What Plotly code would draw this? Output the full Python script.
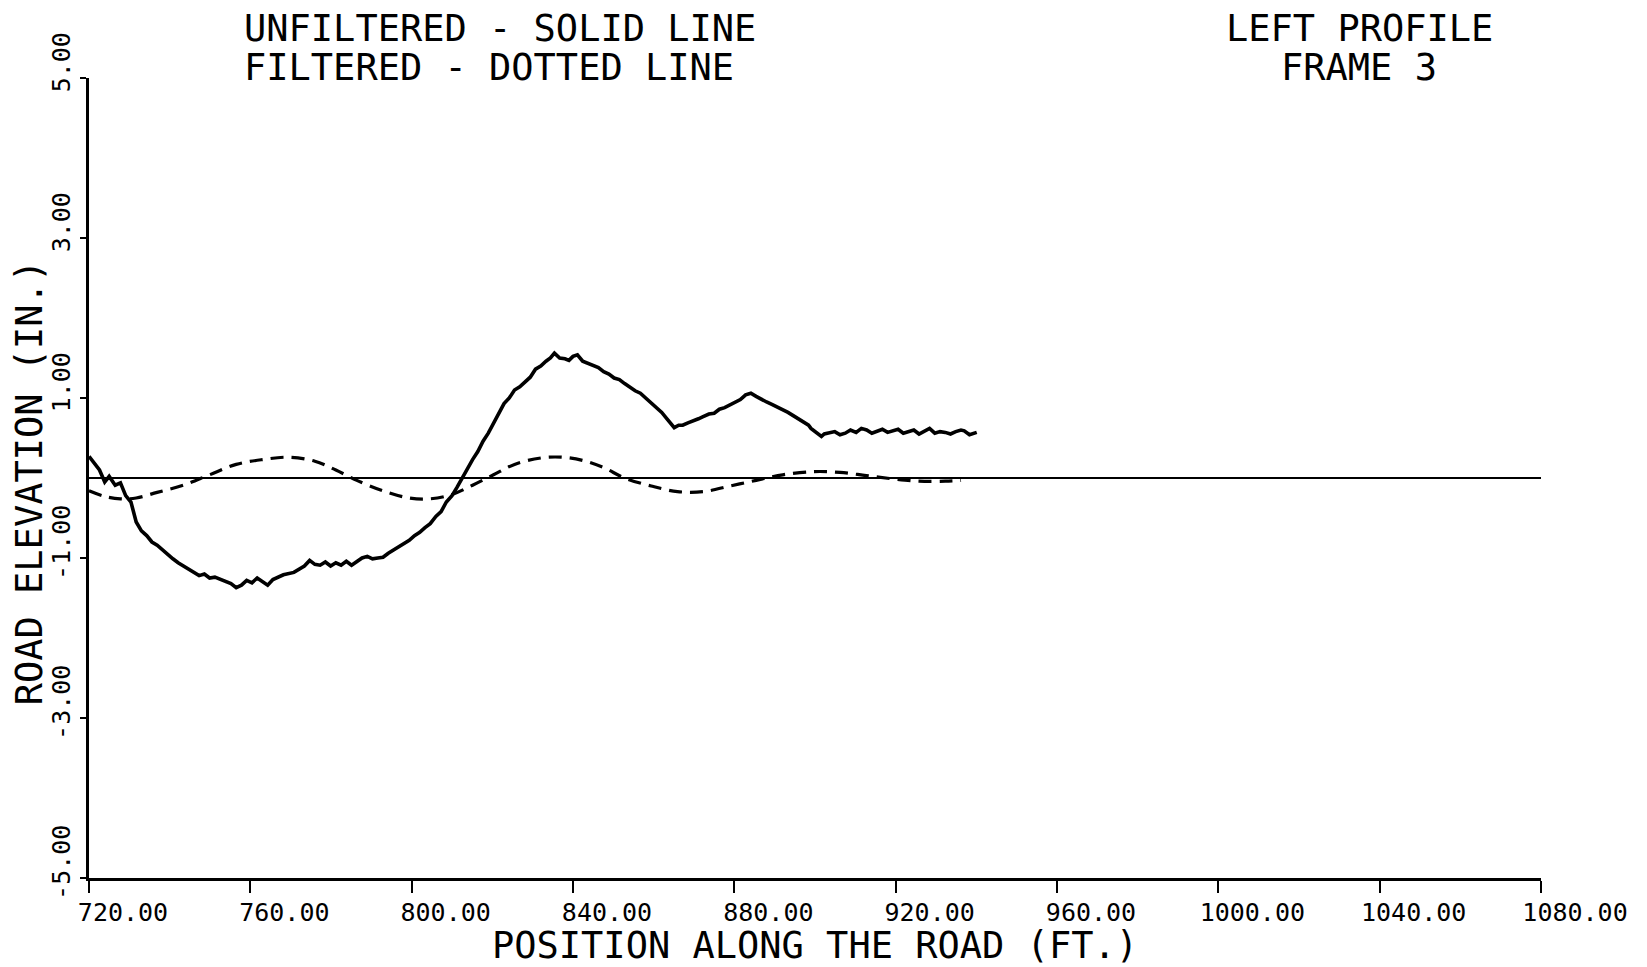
import plotly.graph_objects as go

# Unfiltered profile (solid line)
raw_x = [720.0, 722.6, 723.9, 725.0, 726.5, 727.8, 729.1, 730.4, 731.7, 733.0, 734.3, 735.6, 736.9, 738.2,
         739.5, 740.8, 742.1, 743.4, 744.7, 746.0, 747.3, 748.6, 749.9, 751.2, 752.5, 753.9, 755.2, 756.5,
         757.8, 759.1, 760.4, 761.7, 763.0, 764.3, 765.6, 766.9, 768.2, 770.8, 772.1, 773.4, 774.7, 776.0,
         777.3, 778.6, 779.9, 781.2, 782.5, 783.8, 785.1, 786.4, 787.7, 789.0, 790.3, 791.6, 792.9, 794.2,
         795.5, 796.8, 798.1, 799.4, 800.7, 802.0, 803.3, 804.6, 806.0, 807.3, 808.6, 810.0, 811.2, 812.5,
         813.8, 815.1, 816.4, 817.7, 819.0, 820.3, 821.6, 822.9, 824.2, 825.5, 826.8, 828.1, 829.4, 830.7,
         832.0, 833.3, 834.4, 835.4, 836.7, 838.0, 839.0, 840.0, 841.1, 842.4, 843.7, 845.0, 846.3, 847.6,
         848.9, 850.2, 851.5, 852.8, 854.1, 855.4, 856.7, 858.0, 859.4, 860.7, 862.0, 863.3, 864.2, 865.1,
         866.2, 867.2, 868.5, 869.8, 871.1, 872.4, 873.7, 875.0, 876.3, 877.6, 878.9, 880.2, 881.5, 882.8,
         884.1, 885.4, 886.7, 888.0, 889.3, 890.6, 892.0, 893.3, 894.6, 895.8, 897.1, 898.4, 899.0, 900.3,
         901.6, 902.3, 903.6, 904.9, 906.2, 907.5, 908.8, 910.2, 911.5, 912.8, 914.1, 915.4, 916.7, 918.0,
         919.3, 920.6, 921.9, 923.2, 924.5, 925.8, 927.1, 928.4, 929.7, 931.0, 932.3, 933.6, 934.9, 936.2,
         937.0, 938.3, 940.1]
raw_y = [0.27, 0.10, -0.05, 0.02, -0.09, -0.06, -0.22, -0.30, -0.55, -0.66, -0.72, -0.80, -0.84, -0.90,
         -0.96, -1.01, -1.06, -1.10, -1.13, -1.18, -1.22, -1.20, -1.25, -1.24, -1.27, -1.30, -1.32, -1.37,
         -1.34, -1.28, -1.31, -1.25, -1.30, -1.34, -1.27, -1.24, -1.21, -1.18, -1.14, -1.10, -1.03, -1.08,
         -1.09, -1.05, -1.10, -1.06, -1.09, -1.04, -1.09, -1.05, -1.00, -0.98, -1.01, -1.00, -0.99, -0.94,
         -0.90, -0.86, -0.81, -0.78, -0.72, -0.68, -0.62, -0.57, -0.48, -0.42, -0.30, -0.22, -0.12, 0.00,
         0.10, 0.23, 0.33, 0.46, 0.56, 0.69, 0.80, 0.93, 1.00, 1.10, 1.14, 1.20, 1.26, 1.36, 1.40, 1.46,
         1.50, 1.56, 1.50, 1.49, 1.47, 1.52, 1.54, 1.46, 1.43, 1.41, 1.38, 1.33, 1.30, 1.25, 1.23, 1.18,
         1.13, 1.09, 1.06, 1.00, 0.94, 0.88, 0.82, 0.74, 0.69, 0.63, 0.66, 0.66, 0.69, 0.71, 0.74, 0.77,
         0.80, 0.81, 0.86, 0.88, 0.91, 0.95, 0.98, 1.04, 1.06, 1.02, 0.98, 0.95, 0.92, 0.89, 0.86, 0.82,
         0.78, 0.74, 0.70, 0.66, 0.62, 0.57, 0.52, 0.55, 0.56, 0.58, 0.54, 0.56, 0.60, 0.57, 0.62, 0.60,
         0.56, 0.58, 0.61, 0.57, 0.59, 0.61, 0.56, 0.58, 0.60, 0.55, 0.59, 0.62, 0.56, 0.58, 0.57, 0.55,
         0.58, 0.60, 0.59, 0.54, 0.57, 0.60]

# Filtered profile (dotted line)
filt_x = [720.0, 723.9, 727.8, 731.7, 736.9, 743.4, 749.9, 756.5, 763.0, 769.5, 776.0, 781.2, 786.4,
          792.9, 799.4, 804.6, 809.8, 815.1, 820.3, 825.5, 832.0, 837.2, 842.4, 847.6, 852.8, 859.4,
          865.9, 872.4, 878.9, 885.4, 892.0, 899.7, 906.2, 912.7, 919.2, 925.8, 932.3, 936.2]
filt_y = [-0.16, -0.23, -0.26, -0.25, -0.18, -0.09, 0.04, 0.17, 0.23, 0.26, 0.21, 0.10, -0.03,
          -0.16, -0.25, -0.26, -0.21, -0.09, 0.04, 0.17, 0.25, 0.26, 0.22, 0.13, 0.00, -0.10,
          -0.17, -0.17, -0.10, -0.03, 0.04, 0.08, 0.07, 0.03, -0.01, -0.04, -0.04, -0.03]

x_ticks = [720, 760, 800, 840, 880, 920, 960, 1000, 1040, 1080]
x_tick_text = ["720.00", "760.00", "800.00", "840.00", "880.00", "920.00", "960.00", "1000.00", "1040.00", "1080.00"]
y_ticks = [-5, -3, -1, 1, 3, 5]
y_tick_text = ["-5.00", "-3.00", "-1.00", "1.00", "3.00", "5.00"]

FONT = "DejaVu Sans Mono"

fig = go.Figure()
fig.add_trace(go.Scatter(x=filt_x, y=filt_y, mode="lines",
                         line=dict(color="black", width=3.2, dash="13px,8px", shape="spline"),
                         showlegend=False))
fig.add_trace(go.Scatter(x=raw_x, y=raw_y, mode="lines",
                         line=dict(color="black", width=3.6),
                         showlegend=False))

fig.update_layout(
    width=1647, height=967,
    margin=dict(l=89, r=106, t=78, b=83),
    paper_bgcolor="white", plot_bgcolor="white",
    font=dict(family=FONT, color="black"),
    xaxis=dict(range=[720, 1080], tickvals=x_ticks, ticktext=x_tick_text,
               showgrid=False, zeroline=False, showline=True, linecolor="black", linewidth=2.5,
               ticks="outside", ticklen=12, tickwidth=2, tickcolor="black",
               ticklabelshift=34, ticklabelstandoff=-2,
               tickfont=dict(family=FONT, size=25),
               title=dict(text="POSITION ALONG THE ROAD (FT.)", font=dict(family=FONT, size=37), standoff=2)),
    yaxis=dict(range=[-5, 5], tickvals=y_ticks, ticktext=y_tick_text,
               showgrid=False, zeroline=True, zerolinecolor="black", zerolinewidth=2,
               showline=True, linecolor="black", linewidth=2.5,
               ticks="outside", ticklen=6, tickwidth=2, tickcolor="black",
               ticklabelshift=-12,
               tickangle=-90, tickfont=dict(family=FONT, size=25)),
)

ann_font = dict(family=FONT, size=37, color="black")
fig.add_annotation(text="ROAD ELEVATION (IN.)", xref="paper", yref="paper", x=-0.0411, y=0.495,
                   xanchor="center", yanchor="middle", textangle=-90, showarrow=False, font=ann_font)
fig.add_annotation(text="UNFILTERED - SOLID LINE", xref="paper", yref="paper", x=0.1053, y=1.062,
                   xanchor="left", yanchor="middle", showarrow=False, font=ann_font)
fig.add_annotation(text="FILTERED - DOTTED LINE", xref="paper", yref="paper", x=0.1053, y=1.0136,
                   xanchor="left", yanchor="middle", showarrow=False, font=ann_font)
fig.add_annotation(text="LEFT PROFILE", xref="paper", yref="paper", x=0.8747, y=1.062,
                   xanchor="center", yanchor="middle", showarrow=False, font=ann_font)
fig.add_annotation(text="FRAME 3", xref="paper", yref="paper", x=0.8747, y=1.0136,
                   xanchor="center", yanchor="middle", showarrow=False, font=ann_font)

fig.write_html("out.html")
